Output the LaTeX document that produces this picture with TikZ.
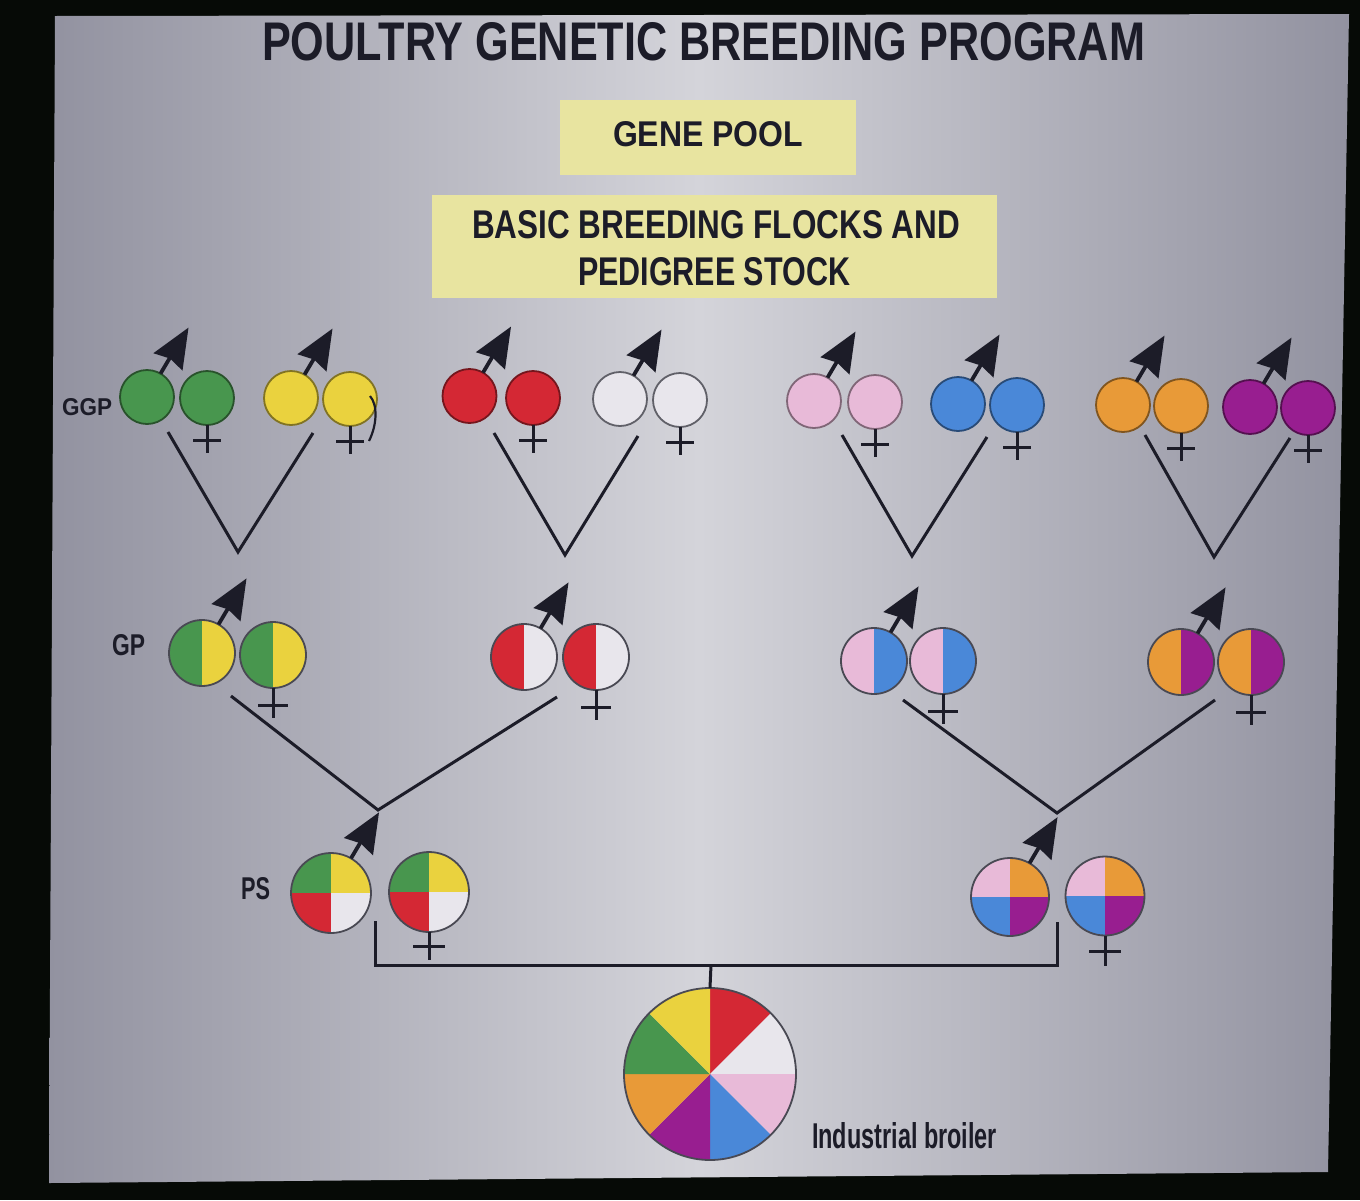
\documentclass[tikz,border=0pt]{standalone}
\usepackage{fontspec}
\setmainfont{Liberation Sans}
\definecolor{ink}{RGB}{28,28,40}
\definecolor{cgreen}{RGB}{72,150,78}
\definecolor{cyellow}{RGB}{234,210,62}
\definecolor{cred}{RGB}{212,40,52}
\definecolor{cwhite}{RGB}{232,230,236}
\definecolor{cpink}{RGB}{232,186,216}
\definecolor{cblue}{RGB}{74,136,216}
\definecolor{corange}{RGB}{232,154,56}
\definecolor{cpurple}{RGB}{152,30,144}
\definecolor{boxyellow}{RGB}{232,228,160}
\definecolor{frameblack}{RGB}{6,10,6}
\definecolor{slideedge}{RGB}{146,146,160}
\definecolor{slidemid}{RGB}{212,212,218}
\newcommand\caps[3]{\resizebox{#1pt}{#2pt}{\bfseries #3}}
\newcommand\femx[4]{\draw[fem] (#1.south) -- ++(0,#2) (#1.south) ++(-#4,#3) -- ++(2*#4,0);}
\newcommand\malex[1]{%
  \draw[maleshaft] (#1.60) -- ++(16,-27);
  \fill[ink] (#1.60) ++(28,-46) -- ++(-35.2,25.6) -- ++(16.7,5.3) -- ++(12.5,12.1) -- cycle;}
\begin{document}
\begin{tikzpicture}[x=1pt,y=-1pt,
  sym/.style={circle, draw=#1!55!black, fill=#1, line width=1.8pt, inner sep=0pt, outer sep=0pt},
  ggp/.style={sym=#1, minimum size=54pt},
  split/.style={circle, draw=ink!80, line width=1.8pt, inner sep=0pt, outer sep=0pt},
  halves/.style 2 args={split, path picture={
     \fill[#1] (path picture bounding box.north west) rectangle (path picture bounding box.south);
     \fill[#2] (path picture bounding box.north) rectangle (path picture bounding box.south east);}},
  quads/.style n args={4}{split, path picture={
     \fill[#1] (path picture bounding box.north west) rectangle (path picture bounding box.center);
     \fill[#2] (path picture bounding box.north) rectangle (path picture bounding box.east);
     \fill[#3] (path picture bounding box.west) rectangle (path picture bounding box.south);
     \fill[#4] (path picture bounding box.center) rectangle (path picture bounding box.south east);}},
  gpc/.style={minimum size=66pt},
  psc/.style={minimum size=80pt},
  maleshaft/.style={line width=3.8pt, draw=ink},
  fem/.style={line width=3pt, draw=ink},
  link/.style={line width=3pt, draw=ink, line join=miter},
  lbl/.style={anchor=base west, inner sep=0pt, outer sep=0pt, text=ink},
  box/.style={fill=boxyellow, anchor=north west, inner sep=0pt}
]
\useasboundingbox (0,0) rectangle (1360,1200);
\fill[frameblack] (0,0) rectangle (1360,1200);
\shade[left color=slideedge, right color=slideedge, middle color=slidemid]
  (55,16) -- (1349,14) -- (1328,1172) -- (49,1183) -- cycle;

% title and boxes
\node[lbl] (title) at (262,60) {\caps{883}{38}{POULTRY GENETIC BREEDING PROGRAM}};
\node[box, minimum width=296pt, minimum height=75pt] (pool) at (560,100) {};
\node[lbl] (poolt) at (613,146) {\caps{190}{25}{GENE POOL}};
\node[box, minimum width=565pt, minimum height=103pt] (flocks) at (432,195) {};
\node[lbl] (flocks1) at (472,238) {\caps{488}{28}{BASIC BREEDING FLOCKS AND}};
\node[lbl] (flocks2) at (578,285) {\caps{272}{28}{PEDIGREE STOCK}};

% row labels
\node[lbl] (lggp) at (62,415) {\caps{50}{17}{GGP}};
\node[lbl] (lgp) at (112,655) {\caps{33}{21}{GP}};
\node[lbl] (lps) at (241,899) {\caps{29}{22}{PS}};

% GGP
\node[ggp=cgreen] (gGm) at (147,397) {};
\node[ggp=cgreen] (gGf) at (207,398) {};
\node[ggp=cyellow] (gYm) at (291,398) {};
\node[ggp=cyellow] (gYf) at (350,399) {};
\node[ggp=cred] (gRm) at (469.5,396) {};
\node[ggp=cred] (gRf) at (533,398) {};
\node[ggp=cwhite, draw=ink!70] (gWm) at (620,399) {};
\node[ggp=cwhite, draw=ink!70] (gWf) at (680,400) {};
\node[ggp=cpink] (gPm) at (814,401) {};
\node[ggp=cpink] (gPf) at (875,402) {};
\node[ggp=cblue] (gBm) at (958,404) {};
\node[ggp=cblue] (gBf) at (1017,405) {};
\node[ggp=corange] (gOm) at (1123,405) {};
\node[ggp=corange] (gOf) at (1181,406) {};
\node[ggp=cpurple] (gVm) at (1250,407) {};
\node[ggp=cpurple] (gVf) at (1308,408) {};
\foreach \m in {gGm,gYm,gRm,gWm,gPm,gBm,gOm,gVm}{\malex{\m}}
\foreach \f in {gGf,gYf,gRf,gWf,gPf,gBf,gOf,gVf}{\femx{\f}{28}{15}{14}}
\draw[line width=2.2pt, ink] (370,396) .. controls (378,405) and (377,425) .. (369,441);

% GP
\node[halves={cgreen}{cyellow}, gpc] (pGYm) at (202,653) {};
\node[halves={cgreen}{cyellow}, gpc] (pGYf) at (273,655) {};
\node[halves={cred}{cwhite}, gpc] (pRWm) at (524,657) {};
\node[halves={cred}{cwhite}, gpc] (pRWf) at (596,657) {};
\node[halves={cpink}{cblue}, gpc] (pPBm) at (874,661) {};
\node[halves={cpink}{cblue}, gpc] (pPBf) at (943,661) {};
\node[halves={corange}{cpurple}, gpc] (pOVm) at (1181,662) {};
\node[halves={corange}{cpurple}, gpc] (pOVf) at (1251,662) {};
\foreach \m in {pGYm,pRWm,pPBm,pOVm}{\malex{\m}}
\foreach \f in {pGYf,pRWf,pPBf,pOVf}{\femx{\f}{30}{17}{15}}

% PS
\node[quads={cgreen}{cyellow}{cred}{cwhite}, psc] (sLm) at (331,893) {};
\node[quads={cgreen}{cyellow}{cred}{cwhite}, psc] (sLf) at (429,892) {};
\node[quads={cpink}{corange}{cblue}{cpurple}, psc, minimum size=78pt] (sRm) at (1010,897) {};
\node[quads={cpink}{corange}{cblue}{cpurple}, psc, minimum size=79pt] (sRf) at (1105,896) {};
\malex{sLm}
\malex{sRm}
\femx{sLf}{28}{14}{16}
\femx{sRf}{30}{16}{16}

% broiler
\node[split, minimum size=172pt, path picture={
   \def\bb{path picture bounding box}
   \fill[cred] (\bb.center) -- (\bb.north) -- (\bb.north east) -- cycle;
   \fill[cwhite] (\bb.center) -- (\bb.north east) -- (\bb.east) -- cycle;
   \fill[cpink] (\bb.center) -- (\bb.east) -- (\bb.south east) -- cycle;
   \fill[cblue] (\bb.center) -- (\bb.south east) -- (\bb.south) -- cycle;
   \fill[cpurple] (\bb.center) -- (\bb.south) -- (\bb.south west) -- cycle;
   \fill[corange] (\bb.center) -- (\bb.south west) -- (\bb.west) -- cycle;
   \fill[cgreen] (\bb.center) -- (\bb.west) -- (\bb.north west) -- cycle;
   \fill[cyellow] (\bb.center) -- (\bb.north west) -- (\bb.north) -- cycle;}] (broiler) at (710,1074) {};
\node[lbl] (lbroiler) at (812,1148) {\caps{185}{26}{Industrial broiler}};

% connectors GGP -> GP
\coordinate (v1a) at (168,432); \coordinate (v1) at (238,552); \coordinate (v1b) at (313,433);
\coordinate (v2a) at (494,433); \coordinate (v2) at (565,555); \coordinate (v2b) at (638,436);
\coordinate (v3a) at (842,435); \coordinate (v3) at (912,556); \coordinate (v3b) at (987,437);
\coordinate (v4a) at (1145,435); \coordinate (v4) at (1214,557); \coordinate (v4b) at (1290,438);
\draw[link] (v1a) -- (v1) -- (v1b);
\draw[link] (v2a) -- (v2) -- (v2b);
\draw[link] (v3a) -- (v3) -- (v3b);
\draw[link] (v4a) -- (v4) -- (v4b);

% connectors GP -> PS
\coordinate (w1a) at (231,696); \coordinate (w1) at (378,810); \coordinate (w1b) at (557,697);
\coordinate (w2a) at (903,700); \coordinate (w2) at (1057,813); \coordinate (w2b) at (1215,700);
\draw[link] (w1a) -- (w1) -- (w1b);
\draw[link] (w2a) -- (w2) -- (w2b);

% PS -> broiler bracket
\coordinate (bl) at (375,921); \coordinate (br) at (1057,922);
\coordinate (blc) at (375,965); \coordinate (brc) at (1057,965);
\coordinate (bmid) at (711,965);
\draw[link] (bl) -- (blc) -- (brc) -- (br);
\draw[link] (bmid) -- (broiler.north);
\end{tikzpicture}
\end{document}
